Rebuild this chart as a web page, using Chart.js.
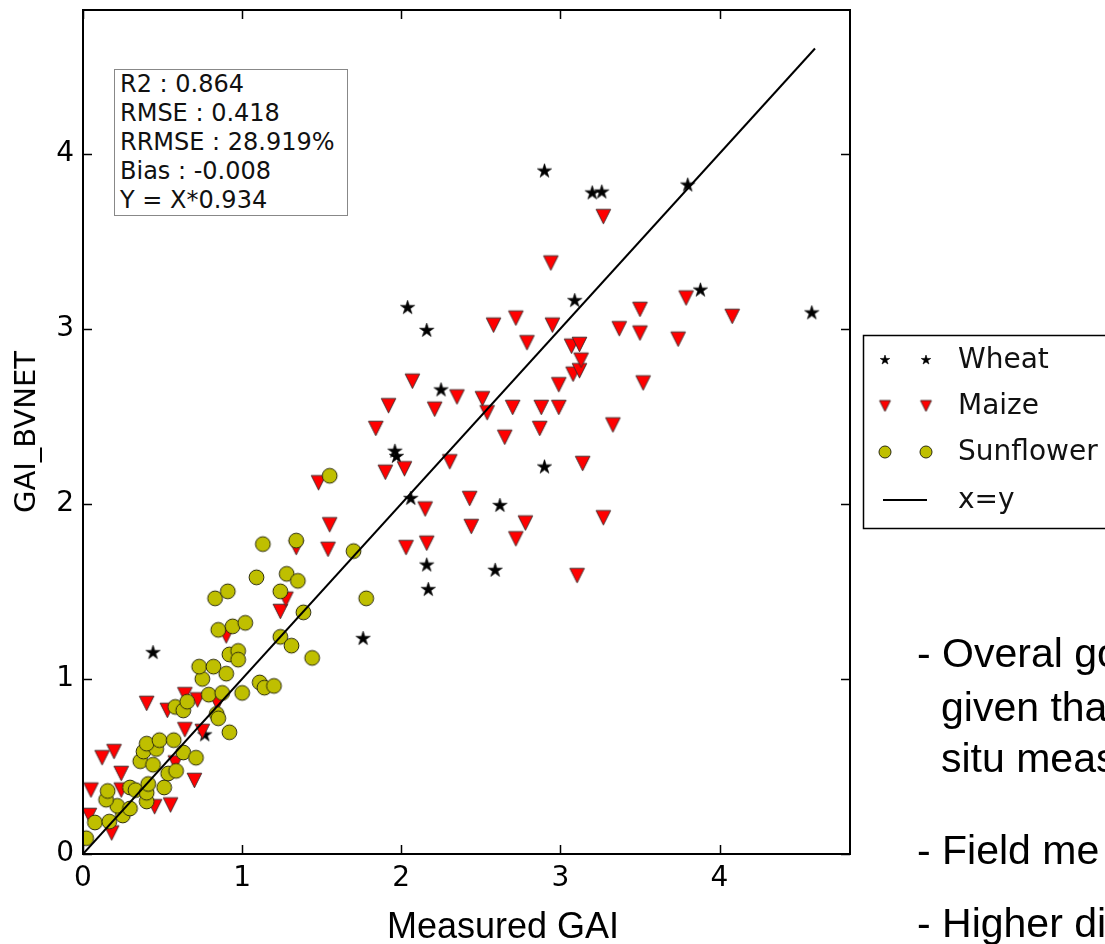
<!DOCTYPE html>
<html><head><meta charset="utf-8">
<script src="https://cdn.jsdelivr.net/npm/chart.js@4.4.1/dist/chart.umd.min.js"></script>
<style>
html,body{margin:0;padding:0;width:1105px;height:944px;overflow:hidden;background:#fff;}
#wrap{position:relative;width:1105px;height:944px;overflow:hidden;}
#c{position:absolute;left:0;top:0;width:1105px;height:944px;}
.t{position:absolute;white-space:nowrap;color:#000;}
#stats{position:absolute;left:114px;top:69px;width:227px;height:145px;border:1px solid #888;background:#fff;
  font:24px "DejaVu Sans";line-height:29px;color:#111;padding:0 0 0 5px;box-sizing:content-box;}
.slide{position:absolute;white-space:nowrap;font:41px "Liberation Sans",Arial,sans-serif;line-height:41px;color:#000;}
</style></head><body>
<div id="wrap">
<canvas id="c" width="1105" height="944"></canvas>
<div id="stats"></div>
<div class="t" id="ylab" style="left:25px;top:432px;transform:translate(-50%,-50%) rotate(-90deg);font:29px 'DejaVu Sans';">GAI_BVNET</div>
<div class="t" id="xlab" style="left:387px;top:908px;font:36px 'Liberation Sans',Arial,sans-serif;line-height:36px;">Measured GAI</div>
<div class="slide" style="left:917px;top:633px;">- Overal go</div>
<div class="slide" style="left:941px;top:687px;">given tha</div>
<div class="slide" style="left:941px;top:738px;">situ meas</div>
<div class="slide" style="left:917px;top:830px;">- Field me</div>
<div class="slide" style="left:917px;top:903px;">- Higher di</div>
</div>
<script>
// ---- data ----
const statLines = ["R2 : 0.864", "RMSE : 0.418", "RRMSE : 28.919%", "Bias : -0.008", "Y = X*0.934"];
const xTicks = [0, 1, 2, 3, 4];
const yTicks = [0, 1, 2, 3, 4];
const axisMax = 4.82;
const seriesNames = ["Wheat", "Maize", "Sunflower", "x=y"];

const wheatX = [0.44,0.765,1.76,1.96,1.97,2.04,2.16,2.06,2.16,2.17,2.25,2.59,2.62,2.90,2.90,3.09,3.20,3.26,3.80,3.88,4.58];
const wheatY = [1.15,0.68,1.23,2.30,2.27,3.12,2.99,2.03,1.65,1.51,2.65,1.62,1.99,2.21,3.90,3.16,3.775,3.78,3.82,3.22,3.09];

const maizeX = [0.04,0.05,0.18,0.12,0.195,0.24,0.24,0.45,0.55,0.58,0.70,0.40,0.53,0.64,0.72,0.845,0.64,0.75,0.90,1.24,1.275,1.34,1.48,1.55,1.54,1.84,1.90,1.92,2.02,2.03,2.07,2.15,2.16,2.21,2.305,2.35,2.43,2.44,2.51,2.54,2.58,2.65,2.70,2.72,2.72,2.78,2.79,2.87,2.88,2.94,2.95,2.99,2.99,3.07,3.08,3.12,3.12,3.13,3.14,3.105,3.27,3.27,3.33,3.37,3.50,3.50,3.52,3.74,3.79,4.08];
const maizeY = [0.22,0.365,0.12,0.55,0.585,0.46,0.365,0.27,0.28,0.52,0.42,0.86,0.82,0.91,0.88,0.86,0.71,0.70,1.245,1.385,1.455,1.75,2.12,1.88,1.74,2.43,2.18,2.56,2.20,1.75,2.70,1.97,1.775,2.54,2.24,2.61,2.03,1.87,2.60,2.52,3.02,2.38,2.55,3.06,1.80,1.89,2.92,2.43,2.55,3.375,3.02,2.68,2.55,2.90,2.74,2.91,2.76,2.82,2.23,1.59,1.92,3.64,2.45,3.00,3.11,2.975,2.69,2.94,3.175,3.07];

const sunX = [0.02,0.075,0.165,0.25,0.215,0.295,0.145,0.155,0.295,0.33,0.40,0.40,0.41,0.51,0.535,0.585,0.36,0.44,0.38,0.46,0.40,0.48,0.57,0.63,0.71,0.58,0.63,0.655,0.84,0.85,0.92,0.79,0.875,1.00,0.75,0.73,0.82,0.90,0.92,0.975,0.975,1.11,1.14,1.20,0.85,0.94,1.02,1.24,1.31,1.44,0.83,0.91,1.24,1.385,1.09,1.28,1.35,1.13,1.34,1.55,1.70,1.78];
const sunY = [0.09,0.18,0.185,0.22,0.275,0.26,0.31,0.36,0.38,0.365,0.30,0.35,0.40,0.38,0.46,0.475,0.53,0.51,0.585,0.60,0.63,0.65,0.65,0.58,0.55,0.84,0.82,0.87,0.80,0.775,0.695,0.91,0.92,0.92,1.00,1.07,1.07,1.03,1.14,1.16,1.11,0.98,0.95,0.96,1.28,1.30,1.32,1.24,1.19,1.12,1.46,1.50,1.50,1.38,1.58,1.60,1.56,1.77,1.79,2.16,1.73,1.46];

const lineX = [0, 4.6];
const lineY = [0, 4.6];

// ---- helpers ----
document.getElementById('stats').innerHTML = statLines.map(s => '<div>' + s + '</div>').join('');
const pts = (xs, ys) => xs.map((v, i) => ({x: v, y: ys[i]}));

function makeMarker(kind, half) {
  const s = Math.ceil(half * 2 + 4);
  const c = document.createElement('canvas');
  c.width = s; c.height = s;
  const g = c.getContext('2d');
  const cx = s / 2, cy = s / 2;
  g.beginPath();
  if (kind === 'star') {
    const R = half, r = half * 0.382;
    for (let i = 0; i < 10; i++) {
      const a = -Math.PI / 2 + i * Math.PI / 5;
      const rr = (i % 2) ? r : R;
      g.lineTo(cx + rr * Math.cos(a), cy + rr * Math.sin(a));
    }
    g.closePath();
    g.fillStyle = '#000'; g.fill();
    g.lineWidth = 0.6; g.strokeStyle = '#000'; g.stroke();
  } else if (kind === 'tri') {
    g.moveTo(cx - half, cy - half);
    g.lineTo(cx + half, cy - half);
    g.lineTo(cx, cy + half);
    g.closePath();
    g.fillStyle = '#ff0000'; g.fill();
    g.lineWidth = 0.9; g.strokeStyle = '#3a2a2a'; g.stroke();
  } else {
    g.arc(cx, cy, half, 0, Math.PI * 2);
    g.fillStyle = '#bfbf00'; g.fill();
    g.lineWidth = 1; g.strokeStyle = '#2a2a10'; g.stroke();
  }
  return c;
}
const mStar = makeMarker('star', 7.5), mTri = makeMarker('tri', 7.3), mCirc = makeMarker('circ', 7.4);
const lStar = makeMarker('star', 5), lTri = makeMarker('tri', 5.5), lCirc = makeMarker('circ', 6);
const legendMarkers = [lStar, lTri, lCirc, null];

const framePlugin = {
  id: 'frame',
  afterDatasetsDraw(chart) {
    const {ctx, chartArea: a, scales: {x, y}} = chart;
    ctx.save();
    ctx.strokeStyle = '#000';
    ctx.lineWidth = 1.5;
    ctx.beginPath();
    xTicks.forEach(v => {
      const p = Math.round(x.getPixelForValue(v)) + 0.5;
      ctx.moveTo(p, a.bottom); ctx.lineTo(p, a.bottom - 9);
      ctx.moveTo(p, a.top); ctx.lineTo(p, a.top + 9);
    });
    yTicks.forEach(v => {
      const p = Math.round(y.getPixelForValue(v)) + 0.5;
      ctx.moveTo(a.left, p); ctx.lineTo(a.left + 9, p);
      ctx.moveTo(a.right, p); ctx.lineTo(a.right - 9, p);
    });
    ctx.stroke();
    ctx.lineWidth = 2;
    ctx.strokeRect(a.left, a.top, a.right - a.left, a.bottom - a.top);
    ctx.restore();
  },
  afterDraw(chart) {
    const ctx = chart.ctx;
    ctx.save();
    ctx.fillStyle = '#fff';
    ctx.fillRect(863, 335, 260, 193);
    ctx.strokeStyle = '#000';
    ctx.lineWidth = 1.5;
    ctx.strokeRect(863.5, 335.5, 260, 193);
    const rows = [360, 406, 452, 500];
    chart.data.datasets.forEach((ds, i) => {
      const yy = rows[i];
      const m = legendMarkers[i];
      if (m) {
        [885, 926].forEach(xx => ctx.drawImage(m, xx - m.width / 2, yy - m.height / 2));
      } else {
        ctx.beginPath(); ctx.lineWidth = 2; ctx.strokeStyle = '#000';
        ctx.moveTo(883, yy); ctx.lineTo(927, yy); ctx.stroke();
      }
      ctx.fillStyle = '#111';
      ctx.font = '28px "DejaVu Sans"';
      ctx.textBaseline = 'middle';
      ctx.textAlign = 'left';
      ctx.fillText(ds.label, 958, yy + 1);
    });
    ctx.restore();
  }
};

const tickFont = {family: 'DejaVu Sans', size: 28};
new Chart(document.getElementById('c'), {
  type: 'scatter',
  data: {
    datasets: [
      {label: seriesNames[0], data: pts(wheatX, wheatY), pointStyle: mStar, order: 3, clip: 0},
      {label: seriesNames[1], data: pts(maizeX, maizeY), pointStyle: mTri, order: 2, clip: 0},
      {label: seriesNames[2], data: pts(sunX, sunY), pointStyle: mCirc, order: 1, clip: 0},
      {type: 'line', label: seriesNames[3], data: pts(lineX, lineY), borderColor: '#000', borderWidth: 2,
       pointRadius: 0, showLine: true, fill: false, order: 0, clip: 0}
    ]
  },
  options: {
    responsive: false,
    animation: false,
    events: [],
    devicePixelRatio: 1,
    layout: {padding: {left: 0, right: 255, top: 10, bottom: 0}},
    plugins: {legend: {display: false}, tooltip: {enabled: false}},
    scales: {
      x: {
        type: 'linear', min: 0, max: axisMax,
        afterBuildTicks: s => { s.ticks = xTicks.map(v => ({value: v})); },
        afterFit: s => { s.height = 90; s.paddingLeft = 0; s.paddingRight = 0; },
        ticks: {font: tickFont, color: '#000', padding: 8, maxRotation: 0, callback: v => String(v)},
        grid: {display: false, drawTicks: false},
        border: {display: false}
      },
      y: {
        type: 'linear', min: 0, max: axisMax,
        afterBuildTicks: s => { s.ticks = yTicks.map(v => ({value: v})); },
        afterFit: s => { s.width = 83; s.paddingTop = 0; s.paddingBottom = 0; },
        ticks: {font: tickFont, color: '#000', padding: 9, callback: v => String(v)},
        grid: {display: false, drawTicks: false},
        border: {display: false}
      }
    }
  },
  plugins: [framePlugin]
});
</script>
</body></html>
